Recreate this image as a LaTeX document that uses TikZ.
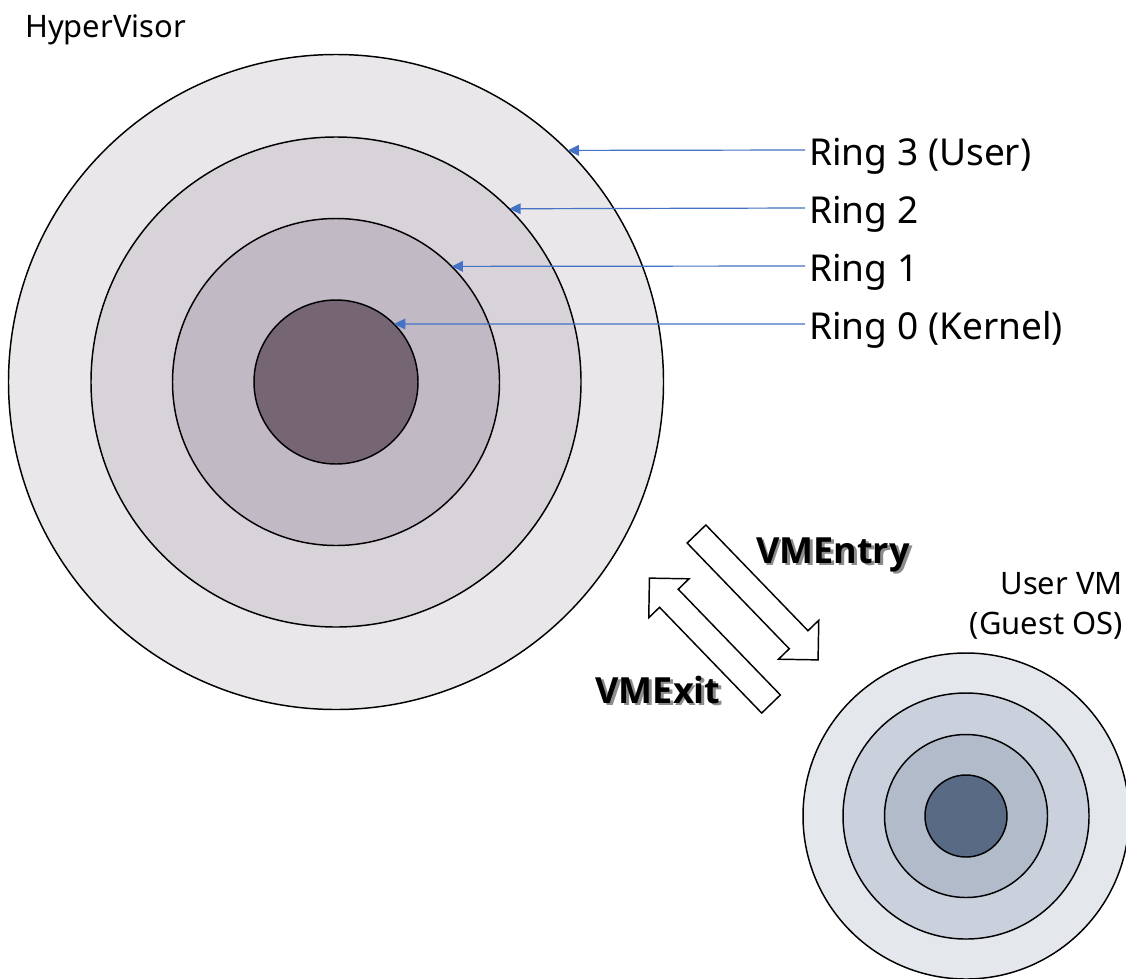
\documentclass[tikz,border=0pt]{standalone}
\usepackage{fontspec}
\setmainfont{Noto Sans}
\newfontfamily\heavyfont{Open Sans}
\usetikzlibrary{arrows.meta}

\definecolor{hvA}{HTML}{E9E7EA}
\definecolor{hvB}{HTML}{D8D3D9}
\definecolor{hvC}{HTML}{C1B9C4}
\definecolor{hvD}{HTML}{766674}
\definecolor{vmA}{HTML}{E4E7EC}
\definecolor{vmB}{HTML}{CBD1DC}
\definecolor{vmC}{HTML}{B2BBCA}
\definecolor{vmD}{HTML}{596A85}
\definecolor{pointer}{HTML}{4472C4}
\definecolor{shadowgray}{HTML}{8C8C8C}

% text with a soft grey drop shadow set behind it
\newcommand\castshadow[1]{\leavevmode
  \rlap{\kern2pt\raisebox{-2pt}{\textcolor{shadowgray}{#1}}}#1}

\begin{document}
\begin{tikzpicture}[x=0.75pt,y=-0.75pt,
  ringdisc/.style={circle, draw=black, line width=1.1pt, inner sep=0pt,
    outer sep=0pt, minimum size={#1*1.5pt}},
  ptr/.style={draw=pointer, line width=0.9pt,
    -{Triangle[length=8.5pt,width=8pt]}},
  ringlabel/.style={anchor=west, inner sep=3pt,
    font=\fontsize{27.8}{32}\selectfont},
  small/.style={font=\fontsize{23.2}{30}\selectfont},
  boldlabel/.style={font=\fontsize{27}{30}\selectfont\heavyfont\bfseries, inner sep=0pt},
  blockarrow/.style={draw=black, fill=white, line width=1.1pt, line join=miter}
]
\useasboundingbox (0,0) rectangle (1126,978);

% hypervisor protection rings
\node[ringdisc=327.5, fill=hvA] (r3) at (336,382) {};
\node[ringdisc=245,   fill=hvB] (r2) at (336,382) {};
\node[ringdisc=163.5, fill=hvC] (r1) at (336,382) {};
\node[ringdisc=82,    fill=hvD] (r0) at (336,382) {};

% guest rings
\node[ringdisc=163, fill=vmA] (g3) at (966,816) {};
\node[ringdisc=123, fill=vmB] (g2) at (966,816) {};
\node[ringdisc=81.5,fill=vmC] (g1) at (966,816) {};
\node[ringdisc=41,  fill=vmD] (g0) at (966,816) {};

% ring labels and pointers
\node[ringlabel] (l3) at (805,156) {Ring 3 (User)};
\node[ringlabel] (l2) at (805,214) {Ring 2};
\node[ringlabel] (l1) at (805,272) {Ring 1};
\node[ringlabel] (l0) at (805,330) {Ring 0 (Kernel)};
\draw[ptr] ([yshift=4.5pt]l3.west) -- (r3.45);
\draw[ptr] ([yshift=4.5pt]l2.west) -- (r2.45);
\draw[ptr] ([yshift=4.5pt]l1.west) -- (r1.45);
\draw[ptr] ([yshift=4.5pt]l0.west) -- (r0.45);

% titles
\node[small, anchor=base west, inner sep=0pt] (hv) at (25,37) {HyperVisor};
\node[small, align=right, anchor=east, inner sep=0pt] (vm) at (1123,606)
  {User VM\\(Guest OS)};

% VM transitions
\begin{scope}[shift={(696.5,534)}, rotate=-46]
  \draw[blockarrow] (0,-13) -- (147,-13) -- (147,-28) -- (175,0)
    -- (147,28) -- (147,13) -- (0,13) -- cycle;
\end{scope}
\begin{scope}[shift={(771,704)}, rotate=134]
  \draw[blockarrow] (0,-13) -- (147,-13) -- (147,-28) -- (175,0)
    -- (147,28) -- (147,13) -- (0,13) -- cycle;
\end{scope}

\node[boldlabel] (entry) at (833,556) {\castshadow{VMEntry}};
\node[boldlabel] (exit) at (658,691) {\castshadow{VMExit}};
\end{tikzpicture}
\end{document}
